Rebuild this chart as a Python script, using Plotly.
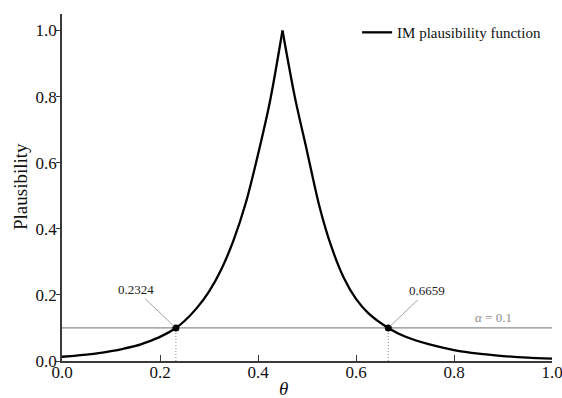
import plotly.graph_objects as go

# Plausibility curve (left and right branches share the peak)
theta_left = [0.000, 0.025, 0.050, 0.075, 0.100, 0.125, 0.150, 0.175, 0.200, 0.2324,
              0.250, 0.275, 0.300, 0.325, 0.350, 0.375, 0.400, 0.425, 0.450]
pl_left = [0.0128, 0.0158, 0.0195, 0.024, 0.030, 0.037, 0.0455, 0.058, 0.073, 0.100,
           0.121, 0.160, 0.210, 0.277, 0.365, 0.478, 0.625, 0.790, 1.000]
theta_right = [0.450, 0.475, 0.500, 0.525, 0.550, 0.575, 0.600, 0.625, 0.6659, 0.700,
               0.750, 0.800, 0.850, 0.900, 0.950, 1.000]
pl_right = [1.000, 0.800, 0.635, 0.470, 0.345, 0.252, 0.188, 0.145, 0.100, 0.074,
            0.050, 0.033, 0.022, 0.015, 0.010, 0.007]

alpha = 0.1
cut_points = [0.2324, 0.6659]
cut_labels = ["0.2324", "0.6659"]
x_ticks = [0.0, 0.2, 0.4, 0.6, 0.8, 1.0]
y_ticks = [0.0, 0.2, 0.4, 0.6, 0.8, 1.0]

FONT = "Liberation Serif, Times New Roman, serif"
GRAY = "#8c8c8c"
AXIS = "#3a3a3a"

fig = go.Figure()

# alpha level line
fig.add_trace(go.Scatter(x=[0, 1], y=[alpha, alpha], mode="lines",
                         line=dict(color=GRAY, width=1.2), showlegend=False,
                         hoverinfo="skip"))
# dotted verticals
for c in cut_points:
    fig.add_trace(go.Scatter(x=[c, c], y=[0, alpha], mode="lines",
                             line=dict(color=GRAY, width=1, dash="1px,2px"),
                             showlegend=False, hoverinfo="skip"))

fig.add_trace(go.Scatter(x=theta_left, y=pl_left, mode="lines",
                         line=dict(color="black", width=2.3, shape="spline", smoothing=0.8),
                         name="IM plausibility function", legendgroup="pl"))
fig.add_trace(go.Scatter(x=theta_right, y=pl_right, mode="lines",
                         line=dict(color="black", width=2.3, shape="spline", smoothing=0.8),
                         name="IM plausibility function", legendgroup="pl", showlegend=False))

fig.add_trace(go.Scatter(x=cut_points, y=[alpha] * len(cut_points), mode="markers",
                         marker=dict(color="black", size=7), showlegend=False))

offsets = [(-40, -38), (39, -37)]
for c, lab, (ax, ay) in zip(cut_points, cut_labels, offsets):
    fig.add_annotation(x=c, y=alpha, text=lab, showarrow=True, arrowhead=0,
                       arrowwidth=0.8, arrowcolor=GRAY, ax=ax, ay=ay, standoff=2,
                       font=dict(family=FONT, size=13, color="#222"))

fig.add_annotation(x=0.88, y=0.133, text="<i>α</i> = 0.1", showarrow=False,
                   font=dict(family=FONT, size=13, color=GRAY))

# axis titles
fig.add_annotation(xref="paper", yref="paper", x=-0.0857, y=0.5014, text="Plausibility",
                   textangle=-90, showarrow=False, xanchor="center", yanchor="middle",
                   font=dict(family=FONT, size=19, color="#111"))
fig.add_annotation(xref="paper", yref="paper", x=0.452, y=-0.078, text="<i>θ</i>",
                   showarrow=False, xanchor="center", yanchor="middle",
                   font=dict(family=FONT, size=19, color="#111"))

fig.update_layout(
    width=562, height=398,
    margin=dict(l=62, r=10, t=14, b=37, autoexpand=False),
    paper_bgcolor="white", plot_bgcolor="white",
    font=dict(family=FONT, size=17, color="#111"),
    showlegend=True,
    legend=dict(x=0.988, y=0.994, xanchor="right", yanchor="top",
                bgcolor="rgba(0,0,0,0)", font=dict(family=FONT, size=15, color="#111")),
    xaxis=dict(range=[0, 1], tickvals=x_ticks, ticktext=[f"{v:.1f}" for v in x_ticks],
               showgrid=False, zeroline=False, showline=True, linecolor=AXIS,
               linewidth=1.5, ticks="inside", ticklen=6, tickcolor=AXIS,
               tickfont=dict(size=17), automargin=False, ticklabelstandoff=-5,
               ticklabeloverflow="allow"),
    yaxis=dict(range=[0, 1.05], tickvals=y_ticks, ticktext=[f"{v:.1f}" for v in y_ticks],
               showgrid=False, zeroline=False, showline=True, linecolor=AXIS,
               linewidth=1.5, ticks="outside", ticklen=4, tickcolor=AXIS,
               tickfont=dict(size=17), automargin=False, ticklabelstandoff=-4,
               ticklabeloverflow="allow"),
)

fig.write_html("out.html", config={"displayModeBar": False},
               post_script="document.body.style.margin='0';document.body.style.overflow='hidden';")
